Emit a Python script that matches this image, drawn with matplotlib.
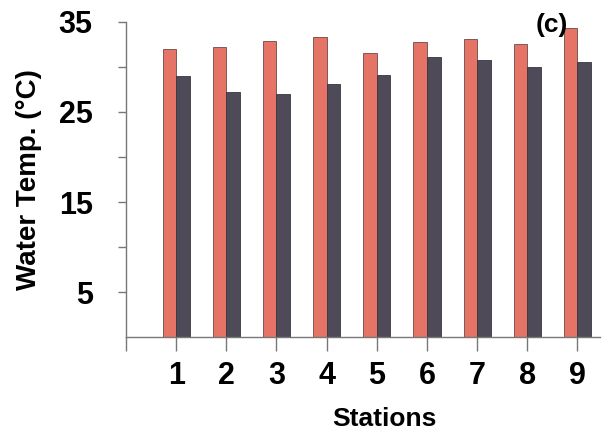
import numpy as np
import matplotlib.pyplot as plt

plt.rcParams['font.family'] = ['Liberation Sans', 'DejaVu Sans']
plt.rcParams['font.weight'] = 'bold'

stations = [1, 2, 3, 4, 5, 6, 7, 8, 9]
temp_a = [32.0, 32.2, 32.9, 33.3, 31.6, 32.8, 33.1, 32.6, 34.3]
temp_b = [29.0, 27.2, 27.0, 28.1, 29.1, 31.1, 30.8, 30.0, 30.6]
ytick_vals = [5, 10, 15, 20, 25, 30, 35]
ytick_labels = ['5', '', '15', '', '25', '', '35']

fig = plt.figure(figsize=(6.04, 4.37), dpi=100)
ax = fig.add_axes([0.2086, 0.2288, 0.7848, 0.7209])

x = np.array(stations)
w = 0.27
ax.bar(x - w / 2, temp_a, width=w, color='#e57366', edgecolor='#6a4a48', linewidth=0.6)
ax.bar(x + w / 2, temp_b, width=w, color='#4f4a57', edgecolor='#3a3540', linewidth=0.6)

ax.set_xlim(0, 9.45)
ax.set_ylim(0, 35)
ax.set_yticks(ytick_vals)
ax.set_yticklabels(ytick_labels)
ax.set_xticks([0] + stations)
ax.set_xticklabels([''] + [str(s) for s in stations])

for side in ['top', 'right']:
    ax.spines[side].set_visible(False)
for side in ['left', 'bottom']:
    ax.spines[side].set_color('#777777')
    ax.spines[side].set_linewidth(1.0)

ax.tick_params(axis='y', direction='out', length=6, width=1, color='#777777',
               labelsize=22, pad=18)
ax.tick_params(axis='x', direction='out', length=10, width=1, color='#777777',
               labelsize=22, pad=7)

ax.set_xlabel('Stations', fontsize=19, fontweight='bold', va='center')
ax.xaxis.set_label_coords(0.546, -0.26)
ax.set_ylabel('Water Temp. (°C)', fontsize=20, fontweight='bold', labelpad=12)

ax.text(8.49, 34.7, '(c)', fontsize=19, fontweight='bold', ha='center', va='center')

fig.savefig('out.png', dpi=100)
